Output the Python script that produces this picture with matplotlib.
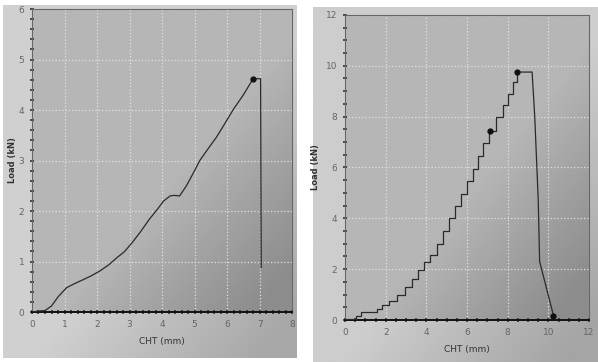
import numpy as np
import matplotlib.pyplot as plt
from matplotlib.ticker import MultipleLocator

# left test: smooth load curve
cht_a = [0, 0.2, 0.4, 0.6, 0.8, 1.06, 1.3, 1.57, 1.8, 2.08, 2.35, 2.6, 2.85, 3.1, 3.35, 3.6, 3.85,
         4.05, 4.25, 4.35, 4.54, 4.75, 5.0, 5.16, 5.4, 5.67, 5.9, 6.18, 6.5, 6.8, 7.03, 7.05]
load_a = [0, 0.02, 0.03, 0.12, 0.3, 0.48, 0.56, 0.64, 0.71, 0.81, 0.93, 1.07, 1.2, 1.39, 1.6, 1.83, 2.03,
          2.2, 2.3, 2.31, 2.3, 2.5, 2.8, 3.0, 3.22, 3.46, 3.7, 4.0, 4.3, 4.62, 4.62, 0.88]
peak_a = (6.8, 4.62)

# right test: stepped load curve
step_x = [0, 0.3, 0.55, 0.8, 1.55, 1.8, 2.15, 2.55, 2.95, 3.3, 3.6, 3.9, 4.2, 4.5, 4.8, 5.1, 5.4,
          5.7, 6.0, 6.3, 6.55, 6.8, 7.1, 7.4, 7.75, 8.0, 8.25, 8.45]
step_y = [0.02, 0.05, 0.15, 0.3, 0.45, 0.6, 0.75, 1.0, 1.3, 1.6, 1.95, 2.3, 2.55, 3.0, 3.5, 4.0, 4.5,
          4.95, 5.45, 5.95, 6.45, 6.95, 7.45, 8.0, 8.45, 8.9, 9.35, 9.75]
tail_x = [8.45, 9.2, 9.33, 9.5, 9.57, 10.26, 10.3]
tail_y = [9.75, 9.75, 8.0, 4.75, 2.3, 0.15, 0.0]
marks_b_x = [7.15, 8.45, 10.25]
marks_b_y = [7.45, 9.75, 0.15]

fig = plt.figure(figsize=(5.98, 3.62), dpi=100)
fig.patch.set_facecolor('white')

# photo paper backgrounds (shadow in lower right)
bg1 = fig.add_axes([0.005, 0.01, 0.49, 0.975])
bg2 = fig.add_axes([0.523, 0.0, 0.477, 0.98])
yy, xx = np.mgrid[0:1:100j, 0:1:100j]
for bg, base in ((bg1, 208), (bg2, 205)):
    shade = base - 40 * np.clip(1.3 * ((xx - 0.5) + (0.4 - yy)), 0, 1)
    bg.imshow(shade, cmap='gray', vmin=0, vmax=255, extent=(0, 1, 0, 1),
              origin='lower', aspect='auto')
    bg.set_axis_off()


def style(ax, xmax, ymax, xminor, yminor):
    ax.set_xlim(0, xmax)
    ax.set_ylim(0, ymax)
    ax.set_facecolor('none')
    yy2, xx2 = np.mgrid[0:1:100j, 0:1:100j]
    shade = 182 - 42 * np.clip(1.3 * ((xx2 - 0.5) + (0.4 - yy2)), 0, 1)
    ax.imshow(shade, cmap='gray', vmin=0, vmax=255, extent=(0, xmax, 0, ymax),
              origin='lower', aspect='auto', zorder=0)
    ax.xaxis.set_major_locator(MultipleLocator(1 if xmax == 8 else 2))
    ax.yaxis.set_major_locator(MultipleLocator(1 if ymax == 6 else 2))
    ax.xaxis.set_minor_locator(MultipleLocator(xminor))
    ax.yaxis.set_minor_locator(MultipleLocator(yminor))
    ax.grid(True, which='major', linestyle=':', color='#e2e2e2', lw=0.9, zorder=1)
    ax.tick_params(which='both', direction='inout', colors='#333333', labelcolor='#666666',
                   labelsize=6.5, length=3, width=1.2, pad=4)
    ax.tick_params(which='minor', length=2.5)
    for s in ('top', 'right', 'left'):
        ax.spines[s].set_color('#666666')
        ax.spines[s].set_linewidth(0.8)
    ax.spines['bottom'].set_color('#111111')
    ax.spines['bottom'].set_linewidth(1.4)
    ax.set_xlabel('CHT (mm)', fontsize=6.5, color='#333333', labelpad=6)
    ax.set_ylabel('Load (kN)', fontsize=6, color='#333333', fontweight='bold', labelpad=1)


ax1 = fig.add_axes([0.0535, 0.138, 0.435, 0.837])
style(ax1, 8, 6, 0.2, 0.2)
ax1.plot(cht_a, load_a, color='#2a2a2a', lw=0.9, zorder=3)
ax1.plot(*peak_a, 'o', color='#111111', ms=3.5, zorder=4)

ax2 = fig.add_axes([0.577, 0.116, 0.408, 0.843])
style(ax2, 12, 12, 0.5, 0.5)
ax2.step(step_x, step_y, where='post', color='#2a2a2a', lw=0.9, zorder=3)
ax2.plot(tail_x, tail_y, color='#2a2a2a', lw=0.9, zorder=3)
ax2.plot(marks_b_x, marks_b_y, 'o', color='#111111', ms=3.5, zorder=4)
ax2.yaxis.labelpad = 4

fig.savefig('out.png', dpi=100)
